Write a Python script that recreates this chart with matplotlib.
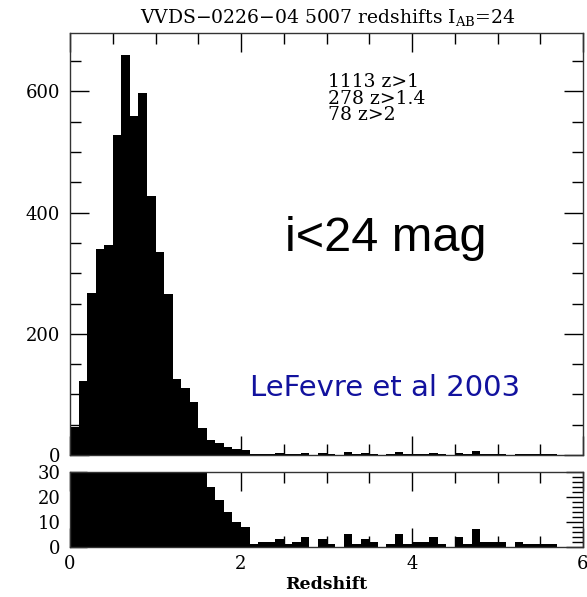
import numpy as np
import matplotlib
matplotlib.use("Agg")
import matplotlib.pyplot as plt
from matplotlib.ticker import MultipleLocator

# ---- data ----
bin_width = 0.1
counts = [46, 122, 267, 340, 346, 528, 660, 560, 597, 428,
          335, 265, 125, 110, 88, 45, 24, 19, 14, 10,
          8, 1, 2, 2, 3, 1, 2, 4, 0, 3,
          1, 0, 5, 1, 3, 2, 0, 1, 5, 1,
          2, 2, 4, 1, 0, 4, 1, 7, 2, 2,
          2, 0, 2, 1, 1, 1, 1, 0, 0, 0]
bin_left = np.arange(len(counts)) * bin_width

title = r"VVDS$-$0226$-$04 5007 redshifts I$_{\rm AB}$=24"
stats_text = "1113 z>1\n278 z>1.4\n78 z>2"
big_label = "i<24 mag"
ref_label = "LeFevre et al 2003"
top_yticks = [0, 200, 400, 600]
bot_yticks = [0, 10, 20, 30]
xticks = [0, 2, 4, 6]

plt.rcParams['mathtext.fontset'] = 'dejavuserif'
serif = 'DejaVu Serif'

W, H = 587, 597
fig = plt.figure(figsize=(W / 100, H / 100), dpi=100)

x0, x1 = 70, 583
ax_top = fig.add_axes([x0 / W, 1 - 455 / H, (x1 - x0) / W, (455 - 33.3) / H])
ax_bot = fig.add_axes([x0 / W, 1 - 546.7 / H, (x1 - x0) / W, (546.7 - 472.3) / H])

for ax in (ax_top, ax_bot):
    ax.bar(bin_left, counts, width=bin_width, align='edge', color='black',
           edgecolor='none', linewidth=0)
    ax.set_xlim(0, 6)
    ax.xaxis.set_major_locator(MultipleLocator(2))
    ax.xaxis.set_minor_locator(MultipleLocator(0.5))
    ax.tick_params(which='both', direction='in', top=True, right=True,
                   bottom=True, left=True, width=1, color='black')
    ax.tick_params(which='major', length=14)
    ax.tick_params(which='minor', length=8)
    for s in ax.spines.values():
        s.set_linewidth(1.0)
        s.set_color('#333333')

ax_top.set_ylim(0, 696)
ax_top.set_yticks(top_yticks)
ax_top.yaxis.set_minor_locator(MultipleLocator(50))
ax_top.set_xticks(xticks)
ax_top.tick_params(labelbottom=False)
for lab in ax_top.get_yticklabels():
    lab.set_fontfamily(serif)
    lab.set_fontsize(13)
ax_top.tick_params(axis='y', pad=7)

ax_bot.set_ylim(0, 30)
ax_bot.set_yticks(bot_yticks)
ax_bot.yaxis.set_minor_locator(MultipleLocator(2))
ax_bot.set_xticks(xticks)
ax_bot.tick_params(axis='y', which='major', length=12)
ax_bot.tick_params(axis='y', pad=7)
ax_bot.tick_params(axis='x', pad=6)
for lab in ax_bot.get_yticklabels() + ax_bot.get_xticklabels():
    lab.set_fontfamily(serif)
    lab.set_fontsize(13)
ax_bot.set_xlabel("Redshift", fontfamily=serif, fontsize=12.5, fontweight='bold',
                  labelpad=2)

fig.text(328 / W, 1 - 17 / H, title, ha='center', va='center',
         fontfamily=serif, fontsize=13.5)

ax_top.text(3.02, 630, stats_text, ha='left', va='top', fontfamily=serif,
            fontsize=13.5, linespacing=0.9)
ax_top.text(3.69, 358, big_label, ha='center', va='center',
            fontfamily='Liberation Sans', fontsize=35)
ax_top.text(3.68, 110, ref_label, ha='center', va='center',
            fontfamily='DejaVu Sans', fontsize=21, color='#12129e')

fig.savefig("out.png", dpi=100)
